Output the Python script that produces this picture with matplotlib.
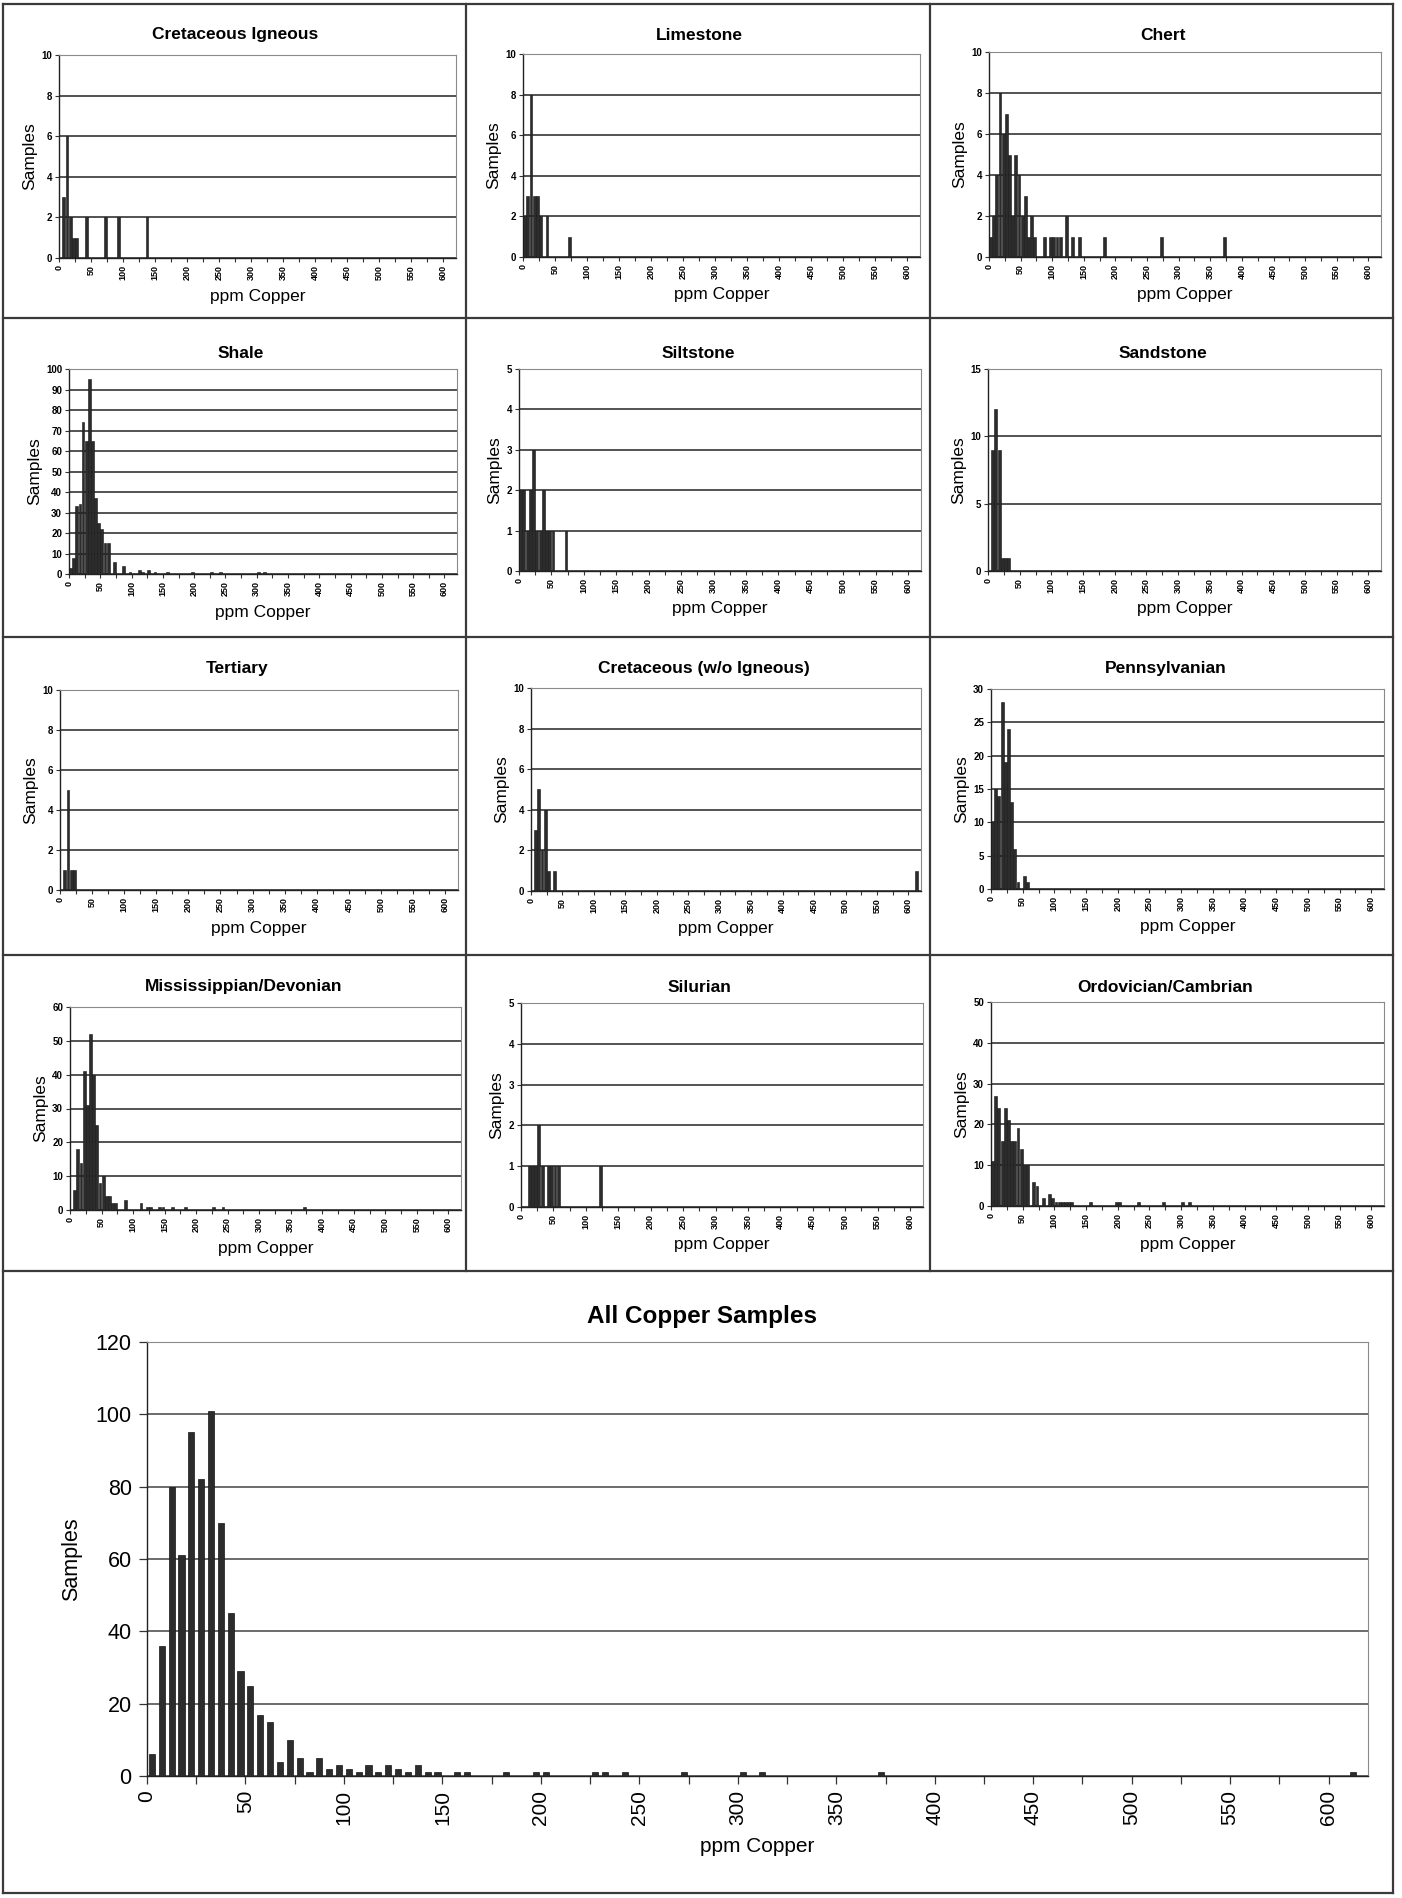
import matplotlib
matplotlib.use('Agg')
import matplotlib.pyplot as plt
from matplotlib.lines import Line2D
import numpy as np

plt.rcParams['font.family'] = ['Liberation Sans', 'DejaVu Sans']

W, H = 1402, 1898
BIN = 5  # ppm per histogram bin

# ---------------- data: lower bin edge (ppm) and sample counts ----------------
cret_ign_ppm = [5, 10, 15, 20, 25, 40, 70, 90, 135]
cret_ign_n = [3, 6, 2, 1, 1, 2, 2, 2, 2]

limestone_ppm = [0, 5, 10, 15, 20, 25, 35, 70]
limestone_n = [2, 3, 8, 3, 3, 2, 2, 1]

chert_ppm = [0, 5, 10, 15, 20, 25, 30, 35, 40, 45, 50, 55, 60, 65, 70,
             85, 95, 100, 105, 110, 120, 130, 140, 180, 270, 370]
chert_n = [1, 2, 4, 8, 6, 7, 5, 2, 5, 4, 2, 3, 1, 2, 1,
           1, 1, 1, 1, 1, 2, 1, 1, 1, 1, 1]

shale_ppm = [0, 5, 10, 15, 20, 25, 30, 35, 40, 45, 50, 55, 60, 70, 85,
             95, 110, 115, 125, 135, 155, 195, 225, 240, 300, 310]
shale_n = [3, 8, 33, 34, 74, 65, 95, 65, 37, 25, 22, 15, 15, 6, 4,
           1, 2, 1, 2, 1, 1, 1, 1, 1, 1, 1]

siltstone_ppm = [0, 5, 10, 15, 20, 25, 30, 35, 40, 45, 50, 70]
siltstone_n = [2, 2, 1, 2, 3, 1, 1, 2, 1, 1, 1, 1]

sandstone_ppm = [5, 10, 15, 20, 25, 30]
sandstone_n = [9, 12, 9, 1, 1, 1]

tertiary_ppm = [5, 10, 15, 20]
tertiary_n = [1, 5, 1, 1]

cret_wo_ppm = [5, 10, 15, 20, 25, 35, 610]
cret_wo_n = [3, 5, 2, 4, 1, 1, 1]

penn_ppm = [0, 5, 10, 15, 20, 25, 30, 35, 40, 50, 55]
penn_n = [10, 15, 14, 28, 19, 24, 13, 6, 1, 2, 1]

miss_ppm = [5, 10, 15, 20, 25, 30, 35, 40, 45, 50, 55, 60, 65, 70, 85,
            110, 120, 125, 140, 145, 160, 180, 225, 240, 370]
miss_n = [6, 18, 14, 41, 31, 52, 40, 25, 8, 10, 4, 4, 2, 2, 3,
          2, 1, 1, 1, 1, 1, 1, 1, 1, 1]

silurian_ppm = [10, 15, 20, 25, 30, 40, 45, 50, 55, 120]
silurian_n = [1, 1, 1, 2, 1, 1, 1, 1, 1, 1]

ordo_ppm = [0, 5, 10, 15, 20, 25, 30, 35, 40, 45, 50, 55, 65, 70, 80, 90, 95,
            100, 105, 110, 115, 120, 125, 155, 195, 200, 230, 270, 300, 310]
ordo_n = [11, 27, 24, 16, 24, 21, 16, 16, 19, 14, 10, 10, 6, 5, 2, 3, 2,
          1, 1, 1, 1, 1, 1, 1, 1, 1, 1, 1, 1, 1]

all_ppm = [0, 5, 10, 15, 20, 25, 30, 35, 40, 45, 50, 55, 60, 65, 70, 75, 80,
           85, 90, 95, 100, 105, 110, 115, 120, 125, 130, 135, 140, 145, 155,
           160, 180, 195, 200, 225, 230, 240, 270, 300, 310, 370, 610]
all_n = [6, 36, 80, 61, 95, 82, 101, 70, 45, 29, 25, 17, 15, 4, 10, 5, 1,
         5, 2, 3, 2, 1, 3, 1, 3, 2, 1, 3, 1, 1, 1,
         1, 1, 1, 1, 1, 1, 1, 1, 1, 1, 1, 1]

x_ticks = list(range(0, 601, 50))

# ------------------------------------------------------------------------------
fig = plt.figure(figsize=(W / 100, H / 100), dpi=100)
fig.patch.set_facecolor('white')


def px_axes(l, t, r, b):
    return fig.add_axes([l / W, 1 - b / H, (r - l) / W, (b - t) / H])


def style_axes(ax, ymax, ystep, big=False):
    ax.set_xlim(0, 620)
    ax.set_ylim(0, ymax)
    ax.set_yticks(np.arange(0, ymax + ystep / 2, ystep))
    ax.set_xticks(x_ticks)
    ax.set_xticks(np.arange(25, 620, 50), minor=True)
    ax.set_xticklabels([str(v) for v in x_ticks], rotation=90)
    ax.yaxis.grid(True, color='#444444', lw=1.3 if not big else 1.1, zorder=1)
    ax.set_axisbelow(True)
    for s in ('left', 'bottom'):
        ax.spines[s].set_color('#222222')
        ax.spines[s].set_linewidth(1.0)
    for s in ('top', 'right'):
        ax.spines[s].set_color('#8a8a8a')
        ax.spines[s].set_linewidth(0.8)
    if big:
        ax.tick_params(axis='both', which='both', direction='out', length=6,
                       width=0.9, color='#333333')
        ax.tick_params(axis='x', labelsize=15, pad=4)
        ax.tick_params(axis='y', labelsize=15.5, pad=5)
    else:
        ax.tick_params(axis='both', which='both', direction='out', length=3,
                       width=0.8, color='#333333')
        ax.tick_params(axis='x', labelsize=6.5, pad=2)
        ax.tick_params(axis='y', labelsize=7, pad=2)
        for lab in ax.get_xticklabels() + ax.get_yticklabels():
            lab.set_fontweight('bold')


def small_chart(box, title, title_y, ppm, n, ymax, ystep):
    l, t, r, b = box
    ax = px_axes(l, t, r, b)
    x = np.array(ppm) + BIN / 2
    ax.bar(x, n, width=BIN * 0.9, color='#2c2c2c', edgecolor='#151515',
           linewidth=0.4, zorder=3)
    style_axes(ax, ymax, ystep)
    ax.set_ylabel('Samples', fontsize=12.5, labelpad=3)
    cx = (l + r) / 2
    fig.text((cx - 22) / W, 1 - title_y / H, title, ha='center', va='center',
             fontsize=12.5, fontweight='bold')
    fig.text(cx / W, 1 - (b + 38) / H, 'ppm Copper', ha='center',
             va='center', fontsize=12.5)
    return ax


row_title_y = [35, 353, 669, 987]

small_chart((59, 55, 456, 258), 'Cretaceous Igneous', row_title_y[0],
            cret_ign_ppm, cret_ign_n, 10, 2)
small_chart((523, 54, 920, 257), 'Limestone', row_title_y[0],
            limestone_ppm, limestone_n, 10, 2)
small_chart((989, 52, 1381, 257), 'Chert', row_title_y[0],
            chert_ppm, chert_n, 10, 2)

small_chart((69, 369, 457, 574), 'Shale', row_title_y[1],
            shale_ppm, shale_n, 100, 10)
small_chart((519, 369, 921, 571), 'Siltstone', row_title_y[1],
            siltstone_ppm, siltstone_n, 5, 1)
small_chart((988, 369, 1381, 571), 'Sandstone', row_title_y[1],
            sandstone_ppm, sandstone_n, 15, 5)

small_chart((60, 690, 458, 890), 'Tertiary', row_title_y[2],
            tertiary_ppm, tertiary_n, 10, 2)
small_chart((531, 688, 921, 891), 'Cretaceous (w/o Igneous)', row_title_y[2],
            cret_wo_ppm, cret_wo_n, 10, 2)
small_chart((991, 689, 1384, 889), 'Pennsylvanian', row_title_y[2],
            penn_ppm, penn_n, 30, 5)

small_chart((70, 1007, 461, 1210), 'Mississippian/Devonian', row_title_y[3],
            miss_ppm, miss_n, 60, 10)
small_chart((521, 1003, 923, 1207), 'Silurian', row_title_y[3],
            silurian_ppm, silurian_n, 5, 1)
small_chart((991, 1002, 1384, 1206), 'Ordovician/Cambrian', row_title_y[3],
            ordo_ppm, ordo_n, 50, 10)

# ---------------- big bottom chart ----------------
l, t, r, b = 147, 1342, 1368, 1776
axb = px_axes(l, t, r, b)
xb = np.array(all_ppm) + BIN / 2
axb.bar(xb, all_n, width=BIN * 0.62, color='#2c2c2c', edgecolor='#151515',
        linewidth=0.5, zorder=3)
style_axes(axb, 120, 20, big=True)
axb.set_ylabel('Samples', fontsize=15.5, labelpad=10)
fig.text(702 / W, 1 - 1317 / H, 'All Copper Samples', ha='center',
         va='center', fontsize=17.5, fontweight='bold')
fig.text(((l + r) / 2) / W, 1 - 1847 / H, 'ppm Copper', ha='center',
         va='center', fontsize=15)

# ---------------- table borders ----------------
border_kw = dict(color='#3a3a3a', lw=1.6)


def hline(y, x0, x1):
    fig.add_artist(Line2D([x0 / W, x1 / W], [1 - y / H, 1 - y / H], **border_kw))


def vline(x, y0, y1):
    fig.add_artist(Line2D([x / W, x / W], [1 - y0 / H, 1 - y1 / H], **border_kw))


for y in (4, 318, 637, 955, 1271, 1893):
    hline(y, 3, 1393)
vline(3, 4, 1893)
vline(1393, 4, 1893)
vline(466, 4, 1271)
vline(930, 4, 1271)

fig.savefig('out.png', dpi=100, facecolor='white')
